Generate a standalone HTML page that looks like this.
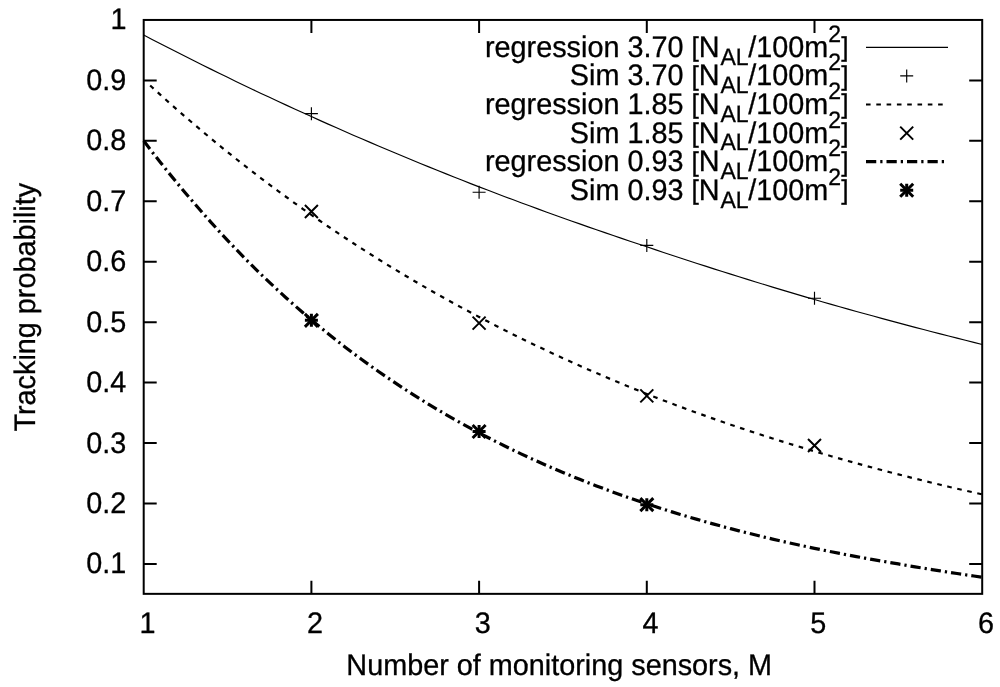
<!DOCTYPE html>
<html><head><meta charset="utf-8"><title>Tracking probability</title>
<style>
html,body{margin:0;padding:0;background:#fff;}
body{width:1000px;height:687px;overflow:hidden;}
svg{display:block;}
text{font-family:"Liberation Sans",Arial,Helvetica,sans-serif;font-size:28.8px;fill:#000;stroke:#000;stroke-width:0.3px;text-rendering:geometricPrecision;}
</style></head><body>
<svg width="1000" height="687" viewBox="0 0 1000 687">
<rect width="1000" height="687" fill="#fff"/>
<path d="M143.7 563.90h13M982.2 563.90h-13M143.7 503.46h13M982.2 503.46h-13M143.7 443.02h13M982.2 443.02h-13M143.7 382.58h13M982.2 382.58h-13M143.7 322.14h13M982.2 322.14h-13M143.7 261.71h13M982.2 261.71h-13M143.7 201.27h13M982.2 201.27h-13M143.7 140.83h13M982.2 140.83h-13M143.7 80.39h13M982.2 80.39h-13M311.40 593.85v-13M311.40 19.95v13M479.10 593.85v-13M479.10 19.95v13M646.80 593.85v-13M646.80 19.95v13M814.50 593.85v-13M814.50 19.95v13" stroke="#000" stroke-width="2" fill="none"/>
<rect x="143.7" y="19.95" width="838.5" height="573.90" fill="none" stroke="#000" stroke-width="2"/>
<text transform="translate(126.4,573.40) scale(1,1.03)" text-anchor="end">0.1</text>
<text transform="translate(126.4,512.96) scale(1,1.03)" text-anchor="end">0.2</text>
<text transform="translate(126.4,452.52) scale(1,1.03)" text-anchor="end">0.3</text>
<text transform="translate(126.4,392.08) scale(1,1.03)" text-anchor="end">0.4</text>
<text transform="translate(126.4,331.64) scale(1,1.03)" text-anchor="end">0.5</text>
<text transform="translate(126.4,271.21) scale(1,1.03)" text-anchor="end">0.6</text>
<text transform="translate(126.4,210.77) scale(1,1.03)" text-anchor="end">0.7</text>
<text transform="translate(126.4,150.33) scale(1,1.03)" text-anchor="end">0.8</text>
<text transform="translate(126.4,89.89) scale(1,1.03)" text-anchor="end">0.9</text>
<text transform="translate(126.4,29.45) scale(1,1.03)" text-anchor="end">1</text>
<text transform="translate(147.40,632.5) scale(1,1.03)" text-anchor="middle">1</text>
<text transform="translate(315.10,632.5) scale(1,1.03)" text-anchor="middle">2</text>
<text transform="translate(482.80,632.5) scale(1,1.03)" text-anchor="middle">3</text>
<text transform="translate(650.50,632.5) scale(1,1.03)" text-anchor="middle">4</text>
<text transform="translate(818.20,632.5) scale(1,1.03)" text-anchor="middle">5</text>
<text transform="translate(985.90,632.5) scale(1,1.03)" text-anchor="middle">6</text>
<text transform="translate(559.2,675) scale(1,1.03)" text-anchor="middle">Number of monitoring sensors, M</text>
<text transform="translate(35,307.2) rotate(-90) scale(1,1.03)" text-anchor="middle">Tracking probability</text>
<path d="M143.70 35.06L152.09 39.43L160.47 43.77L168.85 48.08L177.24 52.35L185.62 56.60L194.01 60.81L202.40 64.99L210.78 69.14L219.16 73.26L227.55 77.35L235.94 81.41L244.32 85.44L252.70 89.43L261.09 93.40L269.47 97.34L277.86 101.25L286.25 105.13L294.63 108.99L303.01 112.81L311.40 116.60L319.78 120.37L328.17 124.11L336.55 127.82L344.94 131.51L353.32 135.16L361.71 138.79L370.10 142.39L378.48 145.97L386.87 149.52L395.25 153.04L403.63 156.54L412.02 160.01L420.40 163.46L428.79 166.87L437.17 170.27L445.56 173.64L453.94 176.98L462.33 180.30L470.71 183.60L479.10 186.87L487.48 190.08L495.87 193.27L504.25 196.44L512.64 199.58L521.02 202.71L529.41 205.80L537.80 208.88L546.18 211.93L554.57 214.96L562.95 217.96L571.34 220.94L579.72 223.90L588.11 226.84L596.49 229.76L604.88 232.65L613.26 235.53L621.64 238.38L630.03 241.21L638.42 244.02L646.80 246.80L655.18 249.63L663.57 252.44L671.96 255.22L680.34 257.99L688.72 260.73L697.11 263.46L705.49 266.16L713.88 268.84L722.27 271.51L730.65 274.15L739.03 276.78L747.42 279.39L755.81 281.97L764.19 284.54L772.58 287.09L780.96 289.62L789.34 292.14L797.73 294.63L806.12 297.11L814.50 299.56L822.88 301.97L831.27 304.37L839.65 306.74L848.04 309.10L856.42 311.43L864.81 313.76L873.19 316.06L881.58 318.35L889.96 320.62L898.35 322.87L906.73 325.11L915.12 327.33L923.51 329.53L931.89 331.72L940.27 333.89L948.66 336.05L957.05 338.18L965.43 340.31L973.82 342.42L982.20 344.51" fill="none" stroke="#000" stroke-width="1.15"/>
<path d="M146.13 81.73L152.09 87.22L160.47 94.84L168.85 102.36L177.24 109.77L185.62 117.07L194.01 124.27L202.40 131.36L210.78 138.36L219.16 145.25L227.55 152.05L235.94 158.75L244.32 165.36L252.70 171.87L261.09 178.29L269.47 184.62L277.86 190.86L286.25 197.00L294.63 203.07L303.01 209.04L311.40 214.93L319.78 220.76L328.17 226.49L336.55 232.15L344.94 237.73L353.32 243.23L361.71 248.65L370.10 254.00L378.48 259.26L386.87 264.46L395.25 269.58L403.63 274.62L412.02 279.60L420.40 284.51L428.79 289.34L437.17 294.11L445.56 298.81L453.94 303.44L462.33 308.01L470.71 312.51L479.10 316.95L487.48 321.34L495.87 325.67L504.25 329.94L512.64 334.15L521.02 338.30L529.41 342.39L537.80 346.42L546.18 350.39L554.57 354.31L562.95 358.18L571.34 361.99L579.72 365.74L588.11 369.44L596.49 373.09L604.88 376.69L613.26 380.24L621.64 383.74L630.03 387.19L638.42 390.59L646.80 393.94L655.18 397.22L663.57 400.45L671.96 403.63L680.34 406.77L688.72 409.86L697.11 412.91L705.49 415.91L713.88 418.88L722.27 421.80L730.65 424.68L739.03 427.51L747.42 430.31L755.81 433.07L764.19 435.79L772.58 438.47L780.96 441.11L789.34 443.72L797.73 446.28L806.12 448.82L814.50 451.31L822.88 453.77L831.27 456.20L839.65 458.59L848.04 460.94L856.42 463.26L864.81 465.55L873.19 467.81L881.58 470.04L889.96 472.23L898.35 474.39L906.73 476.52L915.12 478.63L923.51 480.70L931.89 482.74L940.27 484.75L948.66 486.74L957.05 488.69L965.43 490.62L973.82 492.52L982.20 494.40" fill="none" stroke="#000" stroke-width="2.2" stroke-dasharray="4.6 5.657" stroke-dashoffset="4.76"/>
<path d="M143.70 140.83L152.09 151.80L160.47 162.52L168.85 172.99L177.24 183.22L185.62 193.20L194.01 202.96L202.40 212.63L210.78 222.09L219.16 231.32L227.55 240.34L235.94 249.16L244.32 257.77L252.70 266.18L261.09 274.41L269.47 282.44L277.86 290.28L286.25 297.95L294.63 305.44L303.01 312.76L311.40 319.90L319.78 326.89L328.17 333.71L336.55 340.38L344.94 346.89L353.32 353.26L361.71 359.47L370.10 365.55L378.48 371.48L386.87 377.28L395.25 382.94L403.63 388.48L412.02 393.88L420.40 399.17L428.79 404.33L437.17 409.37L445.56 414.29L453.94 419.11L462.33 423.81L470.71 428.40L479.10 432.89L487.48 437.27L495.87 441.56L504.25 445.74L512.64 449.83L521.02 453.83L529.41 457.73L537.80 461.54L546.18 465.27L554.57 468.91L562.95 472.46L571.34 475.94L579.72 479.33L588.11 482.65L596.49 485.89L604.88 489.05L613.26 492.14L621.64 495.16L630.03 498.12L638.42 501.00L646.80 503.82L655.18 506.57L663.57 509.26L671.96 511.89L680.34 514.45L688.72 516.96L697.11 519.41L705.49 521.80L713.88 524.14L722.27 526.43L730.65 528.66L739.03 530.84L747.42 532.97L755.81 535.05L764.19 537.09L772.58 539.07L780.96 541.02L789.34 542.91L797.73 544.77L806.12 546.58L814.50 548.34L822.88 550.07L831.27 551.76L839.65 553.41L848.04 555.02L856.42 556.60L864.81 558.13L873.19 559.64L881.58 561.10L889.96 562.54L898.35 563.94L906.73 565.40L915.12 566.83L923.51 568.22L931.89 569.59L940.27 570.93L948.66 572.24L957.05 573.52L965.43 574.77L973.82 576.00L982.20 577.20" fill="none" stroke="#000" stroke-width="3.2" stroke-dasharray="10.25 4 2.25 4"/>
<path d="M304.90 113.63h13.0M311.40 107.13v13.0" stroke="#000" stroke-width="1.15" fill="none"/>
<path d="M472.60 192.20h13.0M479.10 185.70v13.0" stroke="#000" stroke-width="1.15" fill="none"/>
<path d="M640.30 245.39h13.0M646.80 238.89v13.0" stroke="#000" stroke-width="1.15" fill="none"/>
<path d="M808.00 298.27h13.0M814.50 291.77v13.0" stroke="#000" stroke-width="1.15" fill="none"/>
<path d="M304.90 205.04l13.0 13.0M304.90 218.04l13.0 -13.0" stroke="#000" stroke-width="2" fill="none"/>
<path d="M472.60 316.61l13.0 13.0M472.60 329.61l13.0 -13.0" stroke="#000" stroke-width="2" fill="none"/>
<path d="M640.30 389.38l13.0 13.0M640.30 402.38l13.0 -13.0" stroke="#000" stroke-width="2" fill="none"/>
<path d="M808.00 438.94l13.0 13.0M808.00 451.94l13.0 -13.0" stroke="#000" stroke-width="2" fill="none"/>
<path d="M304.90 320.33h13.0M311.40 313.83v13.0" stroke="#000" stroke-width="3" fill="none"/>
<path d="M304.90 313.83l13.0 13.0M304.90 326.83l13.0 -13.0" stroke="#000" stroke-width="3" fill="none"/>
<path d="M472.60 431.54h13.0M479.10 425.04v13.0" stroke="#000" stroke-width="3" fill="none"/>
<path d="M472.60 425.04l13.0 13.0M472.60 438.04l13.0 -13.0" stroke="#000" stroke-width="3" fill="none"/>
<path d="M640.30 504.67h13.0M646.80 498.17v13.0" stroke="#000" stroke-width="3" fill="none"/>
<path d="M640.30 498.17l13.0 13.0M640.30 511.17l13.0 -13.0" stroke="#000" stroke-width="3" fill="none"/>
<text transform="translate(848.5,56.70) scale(1,1.03)" text-anchor="end">regression 3.70 <tspan font-size="26.4" dy="-0.5">[</tspan><tspan dy="0.5">N</tspan><tspan font-size="23.04" dy="7.7" dx="0.8">AL</tspan><tspan dy="-7.7" dx="-0.3">/100m</tspan><tspan font-size="23.04" dy="-14.4">2</tspan><tspan font-size="26.4" dy="13.9">]</tspan></text>
<path d="M866 47.30H948" stroke="#000" stroke-width="1.15" fill="none"/>
<text transform="translate(848.5,85.30) scale(1,1.03)" text-anchor="end">Sim 3.70 <tspan font-size="26.4" dy="-0.5">[</tspan><tspan dy="0.5">N</tspan><tspan font-size="23.04" dy="7.7" dx="0.8">AL</tspan><tspan dy="-7.7" dx="-0.3">/100m</tspan><tspan font-size="23.04" dy="-14.4">2</tspan><tspan font-size="26.4" dy="13.9">]</tspan></text>
<path d="M900.20 75.90h13.0M906.70 69.40v13.0" stroke="#000" stroke-width="1.15" fill="none"/>
<text transform="translate(848.5,113.90) scale(1,1.03)" text-anchor="end">regression 1.85 <tspan font-size="26.4" dy="-0.5">[</tspan><tspan dy="0.5">N</tspan><tspan font-size="23.04" dy="7.7" dx="0.8">AL</tspan><tspan dy="-7.7" dx="-0.3">/100m</tspan><tspan font-size="23.04" dy="-14.4">2</tspan><tspan font-size="26.4" dy="13.9">]</tspan></text>
<path d="M866 104.50H948" stroke="#000" stroke-width="2.2" stroke-dasharray="4.6 5.7" fill="none"/>
<text transform="translate(848.5,142.50) scale(1,1.03)" text-anchor="end">Sim 1.85 <tspan font-size="26.4" dy="-0.5">[</tspan><tspan dy="0.5">N</tspan><tspan font-size="23.04" dy="7.7" dx="0.8">AL</tspan><tspan dy="-7.7" dx="-0.3">/100m</tspan><tspan font-size="23.04" dy="-14.4">2</tspan><tspan font-size="26.4" dy="13.9">]</tspan></text>
<path d="M900.20 126.60l13.0 13.0M900.20 139.60l13.0 -13.0" stroke="#000" stroke-width="2" fill="none"/>
<text transform="translate(848.5,171.10) scale(1,1.03)" text-anchor="end">regression 0.93 <tspan font-size="26.4" dy="-0.5">[</tspan><tspan dy="0.5">N</tspan><tspan font-size="23.04" dy="7.7" dx="0.8">AL</tspan><tspan dy="-7.7" dx="-0.3">/100m</tspan><tspan font-size="23.04" dy="-14.4">2</tspan><tspan font-size="26.4" dy="13.9">]</tspan></text>
<path d="M866 161.70H948" stroke="#000" stroke-width="3.2" stroke-dasharray="10.25 4 2.25 4" fill="none"/>
<text transform="translate(848.5,199.70) scale(1,1.03)" text-anchor="end">Sim 0.93 <tspan font-size="26.4" dy="-0.5">[</tspan><tspan dy="0.5">N</tspan><tspan font-size="23.04" dy="7.7" dx="0.8">AL</tspan><tspan dy="-7.7" dx="-0.3">/100m</tspan><tspan font-size="23.04" dy="-14.4">2</tspan><tspan font-size="26.4" dy="13.9">]</tspan></text>
<path d="M900.20 190.30h13.0M906.70 183.80v13.0" stroke="#000" stroke-width="3" fill="none"/>
<path d="M900.20 183.80l13.0 13.0M900.20 196.80l13.0 -13.0" stroke="#000" stroke-width="3" fill="none"/>
</svg></body></html>
